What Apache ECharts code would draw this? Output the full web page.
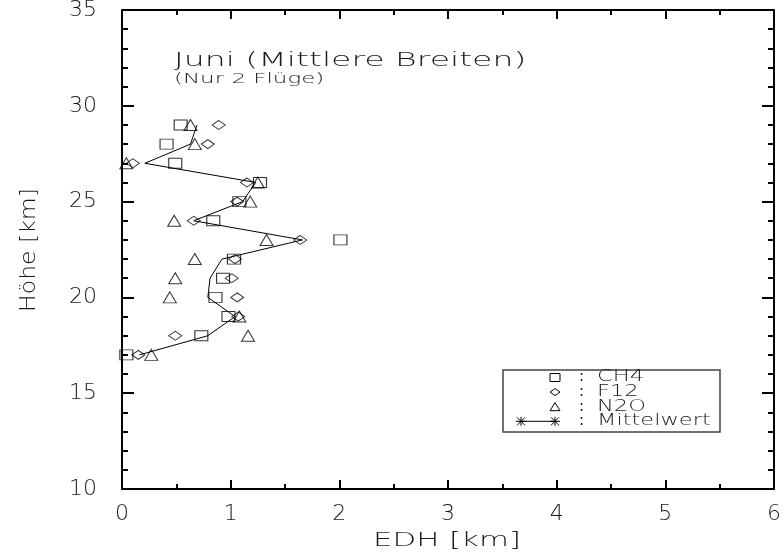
<!DOCTYPE html>
<html>
<head>
<meta charset="utf-8">
<script src="https://cdn.jsdelivr.net/npm/echarts@6/dist/echarts.min.js"></script>
<style>
  html, body { margin: 0; padding: 0; background: #ffffff; }
  #chart { width: 784px; height: 555px; }
</style>
</head>
<body>
<div id="chart"></div>
<script>
// Flight levels (km) and equivalent displacement heights (km) per tracer
const heights = [17, 18, 19, 20, 21, 22, 23, 24, 25, 26, 27, 28, 29];
const ch4  = [0.04, 0.73, 0.98, 0.86, 0.93, 1.03, 2.01, 0.84, 1.08, 1.27, 0.49, 0.41, 0.54];
const f12  = [0.15, 0.49, 1.07, 1.06, 1.01, 1.04, 1.64, 0.66, 1.06, 1.15, 0.10, 0.79, 0.89];
const n2o  = [0.27, 1.16, 1.08, 0.44, 0.49, 0.67, 1.33, 0.48, 1.18, 1.25, 0.04, 0.67, 0.63];
const mittelwert = [0.16, 0.79, 1.04, 0.79, 0.81, 0.92, 1.66, 0.66, 1.11, 1.23, 0.21, 0.63, 0.69];

// Axis tick labels
const xTicks = [0, 1, 2, 3, 4, 5, 6];
const yTicks = [10, 15, 20, 25, 30, 35];

const FONT = '"DejaVu Sans", "Liberation Sans", sans-serif';
const INK = '#1a1a1a';

const pairs = vals => vals.map((v, i) => [v, heights[i]]);

// Text helper: the plot lettering is drawn wide, so text gets a horizontal stretch
function label(text, x, y, size, scaleX, extra, weight) {
  return Object.assign({
    type: 'text', x: x, y: y, scaleX: scaleX, silent: true,
    style: {
      text: text, font: (weight || 300) + ' ' + size + 'px ' + FONT, fill: INK,
      textAlign: 'left', textVerticalAlign: 'middle'
    }
  }, extra || {});
}

function seg(x1, y1, x2, y2) {
  return { type: 'line', silent: true, shape: { x1: x1, y1: y1, x2: x2, y2: y2 },
           style: { stroke: '#000', lineWidth: 1 } };
}

const hollow = { color: 'rgba(0,0,0,0)', borderColor: '#000', borderWidth: 1 };

function xAxisCfg(pos, showLabels) {
  return {
    type: 'value', position: pos,
    min: xTicks[0], max: xTicks[xTicks.length - 1], interval: xTicks[1] - xTicks[0],
    axisLine: { show: true, onZero: false, lineStyle: { color: '#000', width: 2 } },
    axisTick: { show: true, inside: true, length: 9, lineStyle: { color: '#000', width: 2 } },
    minorTick: { show: true, splitNumber: 2, length: 5, lineStyle: { color: '#000', width: 2 } },
    splitLine: { show: false },
    axisLabel: {
      show: showLabels, margin: 14, fontSize: 22, fontFamily: FONT, fontWeight: 300, color: INK
    }
  };
}
function yAxisCfg(pos, showLabels) {
  return {
    type: 'value', position: pos,
    min: yTicks[0], max: yTicks[yTicks.length - 1], interval: yTicks[1] - yTicks[0],
    axisLine: { show: true, onZero: false, lineStyle: { color: '#000', width: 2 } },
    axisTick: { show: true, inside: true, length: 12, lineStyle: { color: '#000', width: 2 } },
    minorTick: { show: true, splitNumber: 5, length: 6, lineStyle: { color: '#000', width: 2 } },
    splitLine: { show: false },
    axisLabel: {
      show: showLabels, margin: 25, fontSize: 22, fontFamily: FONT, fontWeight: 300, color: INK
    }
  };
}

// Legend entries drawn inside a framed box
const LX = 555, LY0 = 377.5, LDY = 14.6;
const legendRows = ['CH4', 'F12', 'N2O', 'Mittelwert'];
const legendGraphics = [
  { type: 'rect', shape: { x: 503, y: 370, width: 217, height: 62 },
    style: { fill: '#fff', stroke: '#444', lineWidth: 1.5 }, silent: true },
  { type: 'rect', shape: { x: LX - 5, y: LY0 - 4, width: 10, height: 8 },
    style: { fill: 'none', stroke: '#000', lineWidth: 1 } },
  { type: 'polygon', shape: { points: [[LX - 5, LY0 + LDY], [LX, LY0 + LDY - 3.5], [LX + 5, LY0 + LDY], [LX, LY0 + LDY + 3.5]] },
    style: { fill: 'none', stroke: '#000', lineWidth: 1 } },
  { type: 'polygon', shape: { points: [[LX - 5, LY0 + 2 * LDY + 4], [LX, LY0 + 2 * LDY - 4], [LX + 5, LY0 + 2 * LDY + 4]] },
    style: { fill: 'none', stroke: '#000', lineWidth: 1 } },
  seg(521, LY0 + 3 * LDY, LX, LY0 + 3 * LDY)
];
// asterisks at both ends of the mean-line sample
[521, LX].forEach(cx => {
  const cy = LY0 + 3 * LDY;
  legendGraphics.push(seg(cx - 5, cy, cx + 5, cy));
  legendGraphics.push(seg(cx - 4, cy - 4, cx + 4, cy + 4));
  legendGraphics.push(seg(cx - 4, cy + 4, cx + 4, cy - 4));
  legendGraphics.push(seg(cx, cy - 4.5, cx, cy + 4.5));
});
legendRows.forEach((t, i) => {
  const cy = LY0 + i * LDY;
  legendGraphics.push(label(':', 579, cy, 15, 1.0, null, 400));
  legendGraphics.push(label(t, 597, cy, 15, 1.5));
});

const yTitle = label('Höhe [km]', 30, 250, 21, 1.12, { rotation: Math.PI / 2 });
yTitle.style.textAlign = 'center';

const option = {
  backgroundColor: '#ffffff',
  animation: false,
  grid: { left: 122, top: 10, width: 652, height: 479, containLabel: false, outerBoundsMode: 'none' },
  xAxis: [xAxisCfg('bottom', true), xAxisCfg('top', false)],
  yAxis: [yAxisCfg('left', true), yAxisCfg('right', false)],
  series: [
    {
      name: 'Mittelwert', type: 'line', xAxisIndex: 0, yAxisIndex: 0,
      data: pairs(mittelwert), showSymbol: false, symbol: 'none',
      lineStyle: { color: '#000', width: 1 }, z: 2
    },
    {
      name: 'CH4', type: 'scatter', data: pairs(ch4),
      symbol: 'rect', symbolSize: [13, 10], itemStyle: hollow, z: 3
    },
    {
      name: 'F12', type: 'scatter', data: pairs(f12),
      symbol: 'diamond', symbolSize: [13, 9], itemStyle: hollow, z: 3
    },
    {
      name: 'N2O', type: 'scatter', data: pairs(n2o),
      symbol: 'triangle', symbolSize: [13, 11], itemStyle: hollow, z: 3
    }
  ],
  graphic: [
    label('Juni (Mittlere Breiten)', 174, 61, 19, 1.74),
    label('(Nur 2 Flüge)', 174, 79, 13.5, 1.7),
    label('EDH [km]', 373, 541, 19, 1.62),
    yTitle
  ].concat(legendGraphics)
};

const chart = echarts.init(document.getElementById('chart'), null, { renderer: 'canvas' });
chart.setOption(option);
</script>
</body>
</html>
